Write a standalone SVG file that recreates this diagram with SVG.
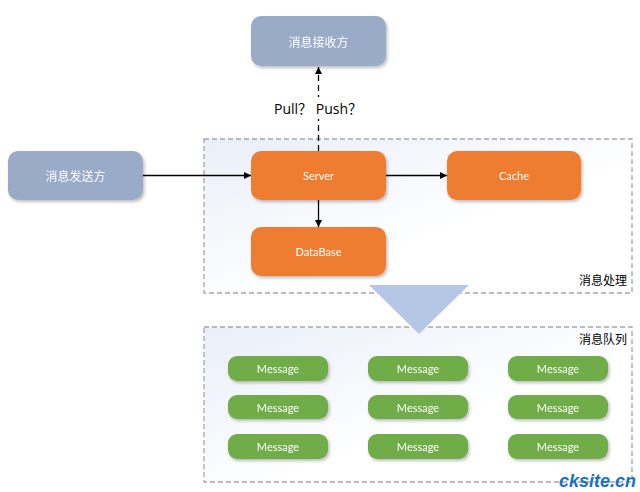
<svg xmlns="http://www.w3.org/2000/svg" width="640" height="492" viewBox="0 0 640 492">
<defs>
<style>
.lbl{font-family:"Lato","Open Sans","Noto Sans CJK SC",sans-serif;font-size:11px;fill:#ffffff;text-anchor:middle;dominant-baseline:central}
.cn{font-family:"Noto Sans CJK SC","Noto Sans",sans-serif;font-size:12px;fill:#ffffff;text-anchor:middle;dominant-baseline:central}
.blue{fill:#9aabc7}
.orange{fill:#ee7d31}
.green{fill:#6fac46}
.grp{stroke:#a6a6a6;stroke-width:1.3;stroke-dasharray:5,3;fill:url(#bg)}
.edge{stroke:#000;stroke-width:1.3;fill:none;marker-end:url(#arr)}
.tag{font-family:"Noto Sans CJK SC",sans-serif;font-size:12px;fill:#000;text-anchor:end}
</style>
<linearGradient id="bg" x1="0" y1="0" x2="1" y2="1">
<stop offset="0" stop-color="#e9eef8"/>
<stop offset="0.6" stop-color="#ffffff"/>
</linearGradient>
<filter id="sh" x="-10%" y="-20%" width="125%" height="150%">
<feDropShadow dx="1.5" dy="2" stdDeviation="1.5" flood-color="#000" flood-opacity="0.25"/>
</filter>
<marker id="arr" viewBox="0 0 10 10" refX="10" refY="5" markerWidth="7" markerHeight="7" orient="auto" markerUnits="userSpaceOnUse">
<path d="M0,0 L10,5 L0,10 z" fill="#000"/>
</marker>
</defs>
<rect width="640" height="492" fill="#ffffff"/>

<g id="group-processing">
<rect class="grp" x="204" y="139" width="428" height="154"/>
<text class="tag" x="627" y="285">消息处理</text>
</g>
<g id="group-queue">
<rect class="grp" x="204" y="327" width="428" height="155"/>
<text class="tag" x="627" y="344">消息队列</text>
</g>
<polygon id="flow-triangle" points="369,285 469,285 419,334" fill="#b4c8e6"/>

<g id="connectors">
<line class="edge" x1="143" y1="175.5" x2="251" y2="175.5"/>
<line class="edge" x1="386" y1="175.5" x2="447" y2="175.5"/>
<line class="edge" x1="318.5" y1="200" x2="318.5" y2="227"/>
<line class="edge" x1="318.5" y1="151" x2="318.5" y2="67" stroke-dasharray="6,4"/>
<rect x="268" y="97" width="100" height="22" fill="#ffffff"/>
<text x="318" y="108" font-family="'Open Sans','Noto Sans CJK SC',sans-serif" font-size="14" fill="#000" text-anchor="middle" dominant-baseline="central">Pull？ Push？</text>
</g>

<g id="receiver" filter="url(#sh)">
<rect class="blue" x="251" y="16" width="135" height="50" rx="10"/>
<text class="cn" x="318.5" y="41">消息接收方</text>
</g>
<g id="sender" filter="url(#sh)">
<rect class="blue" x="8" y="151" width="135" height="49" rx="10"/>
<text class="cn" x="75.5" y="175.5">消息发送方</text>
</g>
<g id="server" filter="url(#sh)">
<rect class="orange" x="251" y="151" width="135" height="49" rx="10"/>
<text class="lbl" x="318.5" y="175.5">Server</text>
</g>
<g id="cache" filter="url(#sh)">
<rect class="orange" x="447" y="151" width="134" height="49" rx="10"/>
<text class="lbl" x="514" y="175.5">Cache</text>
</g>
<g id="database" filter="url(#sh)">
<rect class="orange" x="251" y="227" width="135" height="49" rx="10"/>
<text class="lbl" x="318.5" y="251.5">DataBase</text>
</g>

<g id="msg-1-1" filter="url(#sh)"><rect class="green" x="228" y="356" width="100" height="25" rx="9"/><text class="lbl" x="278" y="368.5">Message</text></g>
<g id="msg-1-2" filter="url(#sh)"><rect class="green" x="368" y="356" width="100" height="25" rx="9"/><text class="lbl" x="418" y="368.5">Message</text></g>
<g id="msg-1-3" filter="url(#sh)"><rect class="green" x="508" y="356" width="100" height="25" rx="9"/><text class="lbl" x="558" y="368.5">Message</text></g>
<g id="msg-2-1" filter="url(#sh)"><rect class="green" x="228" y="395" width="100" height="24" rx="9"/><text class="lbl" x="278" y="407">Message</text></g>
<g id="msg-2-2" filter="url(#sh)"><rect class="green" x="368" y="395" width="100" height="24" rx="9"/><text class="lbl" x="418" y="407">Message</text></g>
<g id="msg-2-3" filter="url(#sh)"><rect class="green" x="508" y="395" width="100" height="24" rx="9"/><text class="lbl" x="558" y="407">Message</text></g>
<g id="msg-3-1" filter="url(#sh)"><rect class="green" x="228" y="434" width="100" height="25" rx="9"/><text class="lbl" x="278" y="446.5">Message</text></g>
<g id="msg-3-2" filter="url(#sh)"><rect class="green" x="368" y="434" width="100" height="25" rx="9"/><text class="lbl" x="418" y="446.5">Message</text></g>
<g id="msg-3-3" filter="url(#sh)"><rect class="green" x="508" y="434" width="100" height="25" rx="9"/><text class="lbl" x="558" y="446.5">Message</text></g>

<text x="636" y="487" font-family="'Liberation Sans',sans-serif" font-size="18" font-weight="bold" font-style="italic" fill="#1a6fc9" text-anchor="end">cksite.cn</text>
</svg>
